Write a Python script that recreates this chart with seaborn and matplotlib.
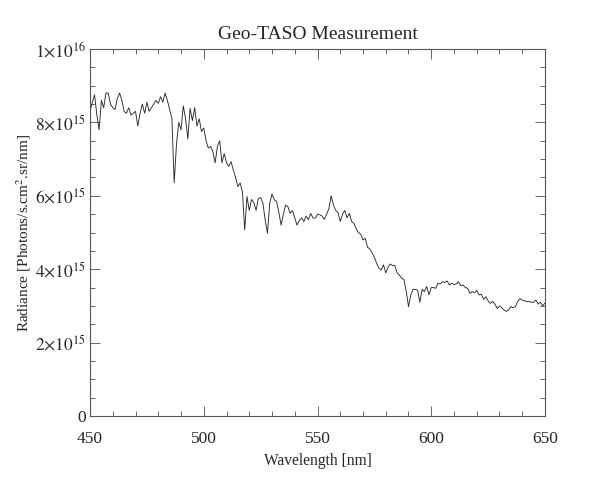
import numpy as np
import pandas as pd
import matplotlib
matplotlib.use("Agg")
import matplotlib.pyplot as plt
import seaborn as sns
from matplotlib.ticker import MultipleLocator, FixedLocator, FixedFormatter

# Geo-TASO spectrum, radiance (units of 1e15 photons/s.cm2.sr/nm)
wavelength = list(range(450, 651))
radiance = [
    8.30, 8.55, 8.75, 8.20, 7.80, 8.60, 8.40, 8.80, 8.80, 8.50,   # 450-459
    8.40, 8.35, 8.65, 8.80, 8.60, 8.30, 8.25, 8.40, 8.20, 8.25,   # 460-469
    8.30, 7.90, 8.25, 8.50, 8.25, 8.55, 8.30, 8.40, 8.50, 8.60,   # 470-479
    8.52, 8.70, 8.55, 8.80, 8.60, 8.35, 8.10, 6.35, 7.40, 8.00,   # 480-489
    7.80, 8.45, 8.10, 7.55, 8.38, 8.05, 8.40, 7.90, 8.10, 7.75,   # 490-499
    7.85, 7.50, 7.30, 7.35, 7.20, 6.90, 7.35, 7.50, 6.90, 7.15,   # 500-509
    6.90, 6.80, 6.93, 6.70, 6.50, 6.25, 6.35, 6.10, 5.07, 5.98,   # 510-519
    5.60, 5.90, 5.82, 5.60, 5.93, 5.95, 5.80, 5.34, 4.98, 5.80,   # 520-529
    6.05, 5.89, 5.85, 5.55, 5.20, 5.50, 5.75, 5.70, 5.52, 5.60,   # 530-539
    5.40, 5.20, 5.32, 5.40, 5.30, 5.45, 5.35, 5.52, 5.40, 5.39,   # 540-549
    5.50, 5.48, 5.45, 5.36, 5.50, 5.65, 6.00, 5.75, 5.60, 5.55,   # 550-559
    5.30, 5.50, 5.60, 5.40, 5.52, 5.30, 5.25, 5.10, 5.00, 4.95,   # 560-569
    4.80, 4.84, 4.60, 4.55, 4.45, 4.32, 4.16, 4.03, 3.98, 4.12,   # 570-579
    3.90, 4.05, 4.14, 4.10, 4.10, 3.90, 3.84, 3.75, 3.72, 3.40,   # 580-589
    2.98, 3.30, 3.45, 3.45, 3.43, 3.10, 3.45, 3.39, 3.53, 3.30,   # 590-599
    3.50, 3.50, 3.48, 3.62, 3.60, 3.66, 3.64, 3.68, 3.57, 3.62,   # 600-609
    3.58, 3.60, 3.66, 3.55, 3.57, 3.50, 3.48, 3.34, 3.39, 3.36,   # 610-619
    3.42, 3.30, 3.32, 3.18, 3.25, 3.14, 3.07, 3.12, 3.05, 2.93,   # 620-629
    3.00, 2.95, 2.89, 2.85, 2.89, 2.98, 2.95, 2.98, 3.12, 3.20,   # 630-639
    3.16, 3.14, 3.12, 3.12, 3.10, 3.10, 3.16, 3.05, 3.10, 3.00,   # 640-649
    3.08,                                                         # 650
]

x_ticks = [450, 500, 550, 600, 650]
y_ticks = [0, 2e15, 4e15, 6e15, 8e15, 1e16]
y_tick_labels = ["0", r"$2{\times}10^{15}$", r"$4{\times}10^{15}$",
                 r"$6{\times}10^{15}$", r"$8{\times}10^{15}$", r"$1{\times}10^{16}$"]

df = pd.DataFrame({"Wavelength": wavelength,
                   "Radiance": np.array(radiance) * 1e15})

sns.set_style("ticks")
plt.rcParams["font.family"] = ["Liberation Serif", "DejaVu Serif"]
plt.rcParams["mathtext.fontset"] = "stix"

fig = plt.figure(figsize=(6.05, 4.9), dpi=100)
ax = fig.add_axes([0.1488, 0.151, 0.752, 0.749])

sns.lineplot(data=df, x="Wavelength", y="Radiance", ax=ax,
             color="#2a2a2a", linewidth=0.65)

ax.set_xlim(450, 650)
ax.set_ylim(0, 1e16)
ax.xaxis.set_major_locator(FixedLocator(x_ticks))
ax.xaxis.set_minor_locator(MultipleLocator(10))
ax.yaxis.set_major_locator(FixedLocator(y_ticks))
ax.yaxis.set_major_formatter(FixedFormatter(y_tick_labels))
ax.yaxis.set_minor_locator(MultipleLocator(0.5e15))

ax.tick_params(which="both", direction="in", top=True, right=True,
               color="#666666", width=0.7)
ax.tick_params(which="major", length=7, labelsize=12.5)
ax.tick_params(axis="x", which="major", pad=11)
ax.tick_params(axis="y", which="major", pad=3)
ax.tick_params(which="minor", length=3.5)
for sp in ax.spines.values():
    sp.set_color("#555555")
    sp.set_linewidth(0.8)

ax.set_title("Geo-TASO Measurement", fontsize=14, pad=7)
ax.set_xlabel("Wavelength [nm]", fontsize=11.2, labelpad=4)
ax.set_ylabel(r"Radiance [Photons/s.cm$^2$.sr/nm]", fontsize=11, labelpad=1)

fig.savefig("out.png", dpi=100)
